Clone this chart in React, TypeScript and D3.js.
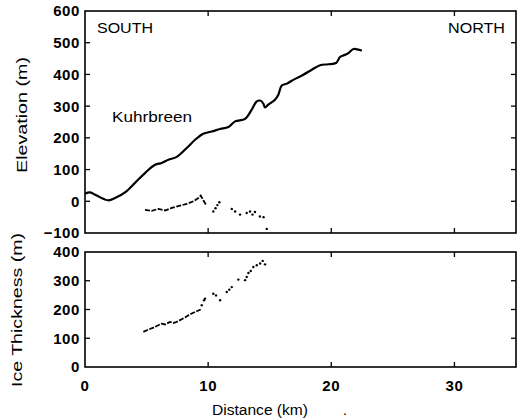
import React from "react";
import * as d3 from "d3";

// Distance axis ticks (km)
const distTicks = [0, 10, 20, 30];
const elevTicks = [600, 500, 400, 300, 200, 100, 0, -100];
const thickTicks = [400, 300, 200, 100, 0];

// Surface elevation profile (solid line)
const surfaceKm = [0, 0.41, 0.95, 1.89, 2.44, 3.25, 4.06, 4.87, 5.69, 6.23, 6.77, 7.45, 8.26, 8.94, 9.61, 10.29, 10.97, 11.64, 12.19, 13.0, 13.54, 13.95, 14.27, 14.48, 14.62, 14.89, 15.43, 15.7, 15.98, 16.39, 17.06, 17.73, 18.42, 19.09, 19.76, 20.39, 20.71, 20.98, 21.31, 21.8, 22.2, 22.48];
const surfaceElev = [24, 28, 18, 3, 10, 28, 58, 89, 115, 121, 131, 140, 168, 194, 213, 220, 228, 234, 252, 260, 289, 315, 317, 308, 296, 305, 320, 336, 365, 371, 386, 399, 415, 429, 432, 436, 455, 460, 465, 480, 478, 475];

// Bed elevation (dense broken part)
const bedKm = [4.87, 5.42, 5.95, 6.5, 7.04, 7.72, 8.26, 8.8, 9.2, 9.4, 9.61, 9.83];
const bedElev = [-27, -30, -24, -29, -21, -14, -8, 0, 10, 18, 3, -11];
// Bed elevation (sparse dots)
const bedDotKm = [10.42, 10.6, 10.75, 10.91, 11.92, 12.19, 12.59, 13.13, 13.4, 13.6, 13.8, 14.2, 14.5, 14.76];
const bedDotElev = [-32, -22, -12, -3, -24, -32, -42, -37, -32, -42, -34, -48, -50, -87];

// Ice thickness (dense part)
const thickKm = [4.74, 5.14, 5.55, 5.95, 6.23, 6.5, 6.9, 7.17, 7.45, 7.85, 8.12, 8.4, 8.67, 9.07, 9.4];
const thickVal = [122, 130, 137, 145, 151, 148, 157, 153, 157, 166, 172, 180, 186, 194, 200];
// Ice thickness (sparse dots)
const thickDotKm = [9.48, 9.67, 9.75, 10.42, 10.64, 10.97, 11.51, 11.72, 11.92, 12.45, 13.0, 13.13, 13.27, 13.46, 13.67, 13.95, 14.22, 14.43, 14.62];
const thickDotVal = [215, 232, 238, 255, 249, 232, 261, 269, 278, 304, 302, 313, 327, 334, 348, 354, 360, 369, 357];

const FONT = "'Liberation Sans', Arial, Helvetica, sans-serif";

export default function App() {
  const L = 85, R = 516;
  const x = d3.scaleLinear().domain([0, 35]).range([L, R]);
  const yTop = d3.scaleLinear().domain([-100, 600]).range([233, 11]);
  const yBot = d3.scaleLinear().domain([0, 400]).range([367, 252]);

  const surfLine = d3.line<number>().x((_, i) => x(surfaceKm[i])).y((d) => yTop(d)).curve(d3.curveCatmullRom);
  const bedLine = d3.line<number>().x((_, i) => x(bedKm[i])).y((d) => yTop(d));
  const thickLine = d3.line<number>().x((_, i) => x(thickKm[i])).y((d) => yBot(d));

  const tickLen = 5;
  const panel = (yScale: d3.ScaleLinear<number, number>, ticks: number[], key: string) => {
    const [y0, y1] = yScale.range(); // bottom, top
    const inner = ticks.filter((t) => yScale(t) < y0 - 1 && yScale(t) > y1 + 1);
    return (
      <g key={key}>
        <rect x={L} y={y1} width={R - L} height={y0 - y1} fill="none" stroke="#000" strokeWidth={1.6} />
        {inner.map((t) => (
          <g key={"yt" + t}>
            <line x1={L} x2={L + tickLen} y1={yScale(t)} y2={yScale(t)} stroke="#000" strokeWidth={1.3} />
            <line x1={R} x2={R - tickLen} y1={yScale(t)} y2={yScale(t)} stroke="#000" strokeWidth={1.3} />
          </g>
        ))}
        {distTicks.filter((t) => t > 0).map((t) => (
          <g key={"xt" + t}>
            <line x1={x(t)} x2={x(t)} y1={y1} y2={y1 + tickLen} stroke="#000" strokeWidth={1.3} />
            <line x1={x(t)} x2={x(t)} y1={y0} y2={y0 - tickLen} stroke="#000" strokeWidth={1.3} />
          </g>
        ))}
        {ticks.map((t) => (
          <text key={"yl" + t} x={80} y={yScale(t)} dy="0.36em" textAnchor="end" fontSize={15} fontWeight="bold" letterSpacing={0.6} fontFamily={FONT}>
            {t < 0 ? "\u2212" + Math.abs(t) : t}
          </text>
        ))}
      </g>
    );
  };

  return (
    <svg width={520} height={420} style={{ position: "absolute", left: 0, top: 0, background: "#fff" }}>
      <rect width={520} height={420} fill="#fff" />
      {panel(yTop, elevTicks, "top")}
      {panel(yBot, thickTicks, "bot")}

      <path d={surfLine(surfaceElev) || ""} fill="none" stroke="#000" strokeWidth={2.2} strokeLinejoin="round" />
      <path d={bedLine(bedElev) || ""} fill="none" stroke="#000" strokeWidth={1.8} strokeDasharray="5 1.5" />
      {bedDotElev.map((v, i) => (
        <circle key={"bd" + i} cx={x(bedDotKm[i])} cy={yTop(v)} r={1.2} fill="#000" />
      ))}
      <path d={thickLine(thickVal) || ""} fill="none" stroke="#000" strokeWidth={1.8} strokeDasharray="5 1.5" />
      {thickDotVal.map((v, i) => (
        <circle key={"td" + i} cx={x(thickDotKm[i])} cy={yBot(v)} r={1.2} fill="#000" />
      ))}

      <text x={97} y={33} fontSize={15} fontFamily={FONT} textLength={56} lengthAdjust="spacingAndGlyphs">SOUTH</text>
      <text x={448} y={33} fontSize={15} fontFamily={FONT} textLength={57} lengthAdjust="spacingAndGlyphs">NORTH</text>
      <text x={112} y={122} fontSize={15} fontFamily={FONT} textLength={80} lengthAdjust="spacingAndGlyphs">Kuhrbreen</text>

      {distTicks.map((t) => (
        <text key={"xl" + t} x={x(t)} y={391} textAnchor="middle" fontSize={15} fontWeight="bold" letterSpacing={0.6} fontFamily={FONT}>
          {t}
        </text>
      ))}
      <text x={212} y={415} fontSize={14} fontFamily={FONT} textLength={96} lengthAdjust="spacingAndGlyphs">Distance (km)</text>
      <text x={343} y={415} fontSize={14} fontFamily={FONT}>.</text>

      <text transform="translate(27,115) rotate(-90)" textAnchor="middle" fontSize={14} fontFamily={FONT} textLength={116} lengthAdjust="spacingAndGlyphs">Elevation (m)</text>
      <text transform="translate(22,310) rotate(-90)" textAnchor="middle" fontSize={14} fontFamily={FONT} textLength={154} lengthAdjust="spacingAndGlyphs">Ice Thickness (m)</text>
    </svg>
  );
}
